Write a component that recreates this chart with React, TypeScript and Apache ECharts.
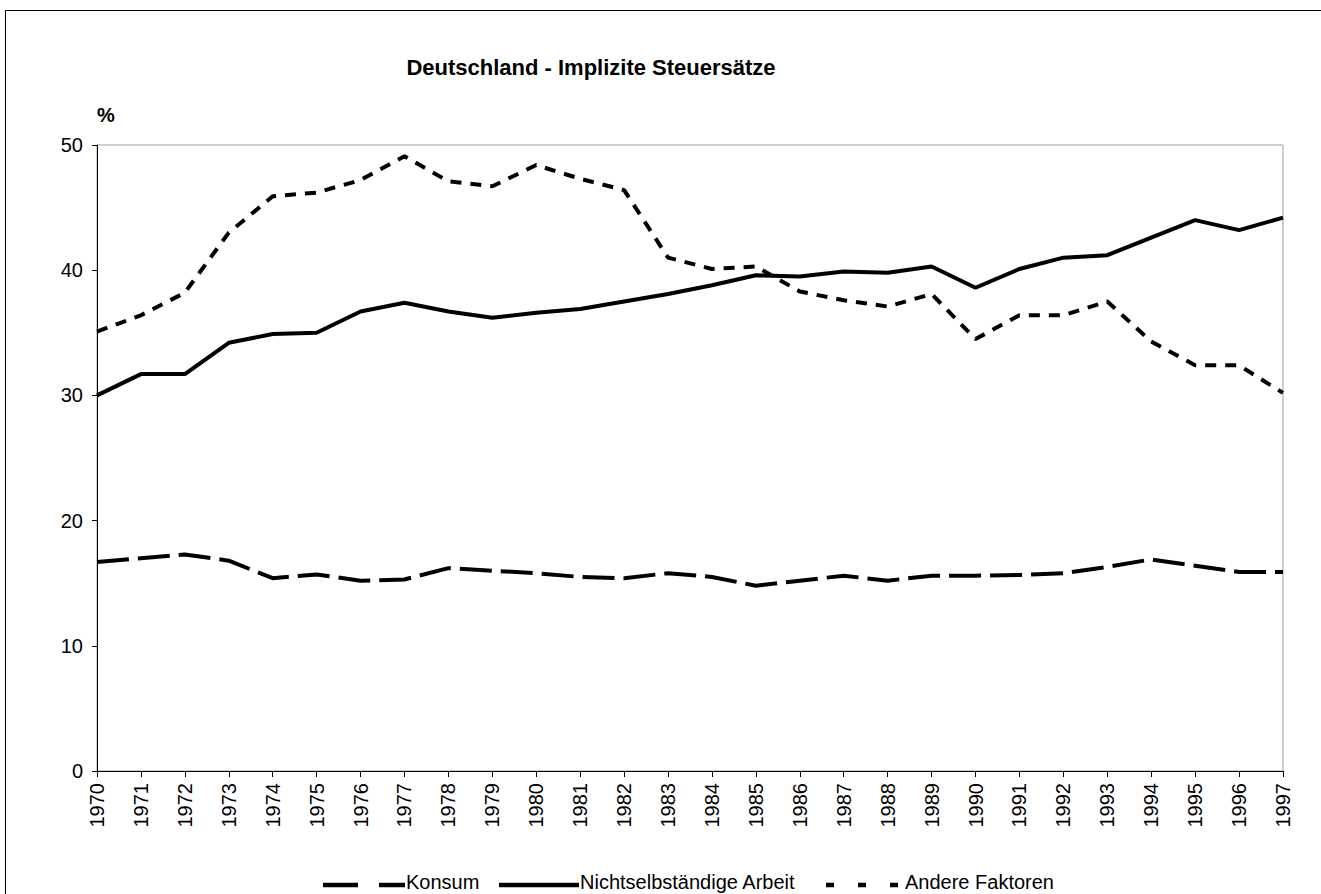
import React, { useEffect, useRef } from "react";
import * as echarts from "echarts";

const years = ["1970","1971","1972","1973","1974","1975","1976","1977","1978","1979","1980","1981","1982","1983","1984","1985","1986","1987","1988","1989","1990","1991","1992","1993","1994","1995","1996","1997"];
const konsum = [16.7, 17.0, 17.3, 16.8, 15.4, 15.7, 15.2, 15.3, 16.2, 16.0, 15.8, 15.5, 15.4, 15.8, 15.5, 14.8, 15.2, 15.6, 15.2, 15.6, 15.6, 15.65, 15.8, 16.3, 16.9, 16.4, 15.9, 15.9];
const arbeit = [30.0, 31.7, 31.7, 34.2, 34.9, 35.0, 36.7, 37.4, 36.7, 36.2, 36.6, 36.9, 37.5, 38.1, 38.8, 39.6, 39.5, 39.9, 39.8, 40.3, 38.6, 40.1, 41.0, 41.2, 42.6, 44.0, 43.2, 44.2];
const andere = [35.1, 36.4, 38.2, 43.0, 45.9, 46.2, 47.2, 49.1, 47.1, 46.7, 48.4, 47.3, 46.4, 41.0, 40.1, 40.3, 38.3, 37.6, 37.1, 38.1, 34.5, 36.4, 36.4, 37.5, 34.3, 32.4, 32.4, 30.2];
const seriesNames = ["Konsum", "Nichtselbständige Arbeit", "Andere Faktoren"];
const titleText = "Deutschland - Implizite Steuersätze";
const unitText = "%";

const FONT = "'Liberation Sans', Arial, sans-serif";

const dashKonsum = [32, 9];
const dashAndere = [11, 9];

export default function App() {
  const ref = useRef<HTMLDivElement>(null);
  useEffect(() => {
    document.body.style.margin = "0";
    const chart = echarts.init(ref.current!, null, { renderer: "svg" });

    const legendItems = [
      { name: seriesNames[0], x1: 323, x2: 405, dash: [35, 21] as any },
      { name: seriesNames[1], x1: 499, x2: 579, dash: null as any },
      { name: seriesNames[2], x1: 826, x2: 898, dash: [8, 24] as any },
    ];
    const legendGraphics: any[] = [];
    legendItems.forEach((it) => {
      legendGraphics.push({
        type: "line",
        shape: { x1: it.x1, y1: 885, x2: it.x2, y2: 885 },
        style: { stroke: "#000", lineWidth: 4.5, lineDash: it.dash || undefined },
        silent: true,
      });
      legendGraphics.push({
        type: "text",
        x: it.x2 + (it.name === seriesNames[2] ? 7 : 1),
        y: 882,
        style: {
          text: it.name,
          font: `20px ${FONT}`,
          fill: "#000",
          textAlign: "left",
          textVerticalAlign: "middle",
        },
        silent: true,
      });
    });

    chart.setOption({
      animation: false,
      backgroundColor: "#fff",
      textStyle: { fontFamily: FONT },
      graphic: [
        {
          type: "rect",
          shape: { x: 5.5, y: 10.5, width: 1400, height: 1000 },
          style: { fill: "none", stroke: "#000", lineWidth: 1 },
          silent: true,
        },
        {
          type: "text",
          x: 591,
          y: 56,
          style: {
            text: titleText,
            font: `bold 22px ${FONT}`,
            fill: "#000",
            textAlign: "center",
            textVerticalAlign: "top",
          },
        },
        {
          type: "text",
          x: 97,
          y: 105,
          style: {
            text: unitText,
            font: `bold 20px ${FONT}`,
            fill: "#000",
            textAlign: "left",
            textVerticalAlign: "top",
          },
        },
        ...legendGraphics,
      ],
      grid: {
        left: 97,
        right: 38,
        top: 145,
        bottom: 123,
        show: true,
        borderColor: "#a0a0a0",
        borderWidth: 1,
        backgroundColor: "#fff",
      },
      xAxis: {
        type: "category",
        data: years,
        boundaryGap: false,
        axisLine: { lineStyle: { color: "#000", width: 1 } },
        axisTick: { alignWithLabel: true, length: 6, lineStyle: { color: "#000" } },
        axisLabel: { rotate: 90, fontSize: 20, color: "#000", margin: 12, fontFamily: FONT },
        splitLine: { show: false },
      },
      yAxis: {
        type: "value",
        min: 0,
        max: 50,
        interval: 10,
        axisLine: { show: true, lineStyle: { color: "#000", width: 1 } },
        axisTick: { show: true, length: 5, lineStyle: { color: "#000" } },
        axisLabel: { fontSize: 20, color: "#000", margin: 14, fontFamily: FONT },
        splitLine: { show: false },
      },
      series: [
        {
          name: seriesNames[0],
          type: "line",
          data: konsum,
          symbol: "none",
          lineStyle: { color: "#000", width: 4, type: dashKonsum },
          itemStyle: { color: "#000" },
        },
        {
          name: seriesNames[1],
          type: "line",
          data: arbeit,
          symbol: "none",
          lineStyle: { color: "#000", width: 4, type: "solid" },
          itemStyle: { color: "#000" },
        },
        {
          name: seriesNames[2],
          type: "line",
          data: andere,
          symbol: "none",
          lineStyle: { color: "#000", width: 4, type: dashAndere },
          itemStyle: { color: "#000" },
        },
      ],
    });
    return () => chart.dispose();
  }, []);
  return <div ref={ref} style={{ width: 1321, height: 894 }} />;
}
